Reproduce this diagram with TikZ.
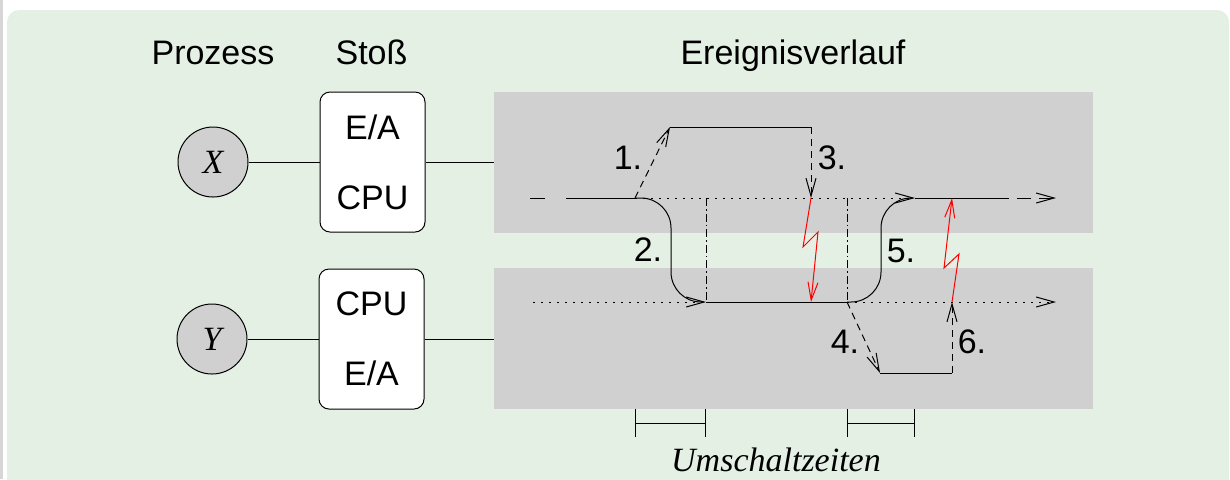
\documentclass[tikz,border=0pt]{standalone}
\usepackage{fontspec}
\setmainfont{Liberation Sans}
\newfontfamily\timesit{Liberation Serif}
\usetikzlibrary{arrows.meta,positioning}
\definecolor{bggreen}{RGB}{229,240,229}
\definecolor{bandgray}{RGB}{208,208,208}
\definecolor{edgegray}{RGB}{214,214,214}

\begin{document}
\begin{tikzpicture}[x=0.5pt,y=-0.5pt,line width=0.5pt,
    >={Straight Barb[length=9pt,width=5pt]},
    font=\fontsize{17}{20}\selectfont]
				\tikzset{proc/.style={circle,draw,fill=bandgray,minimum size=35pt,inner sep=0pt,font=\fontsize{17}{20}\selectfont\timesit\itshape},
					burst/.style={draw,fill=white,rounded corners=5pt,minimum width=52.5pt,minimum height=70pt,inner sep=0pt,align=center,font=\fontsize{17}{35}\selectfont},
					band/.style={fill=bandgray,minimum width=299.5pt,minimum height=70.5pt,inner sep=0pt},
					dotline/.style={dash pattern=on 0.8pt off 3.2pt},
					shortdash/.style={dash pattern=on 3.5pt off 2.5pt},
					longdash/.style={dash pattern=on 7pt off 4pt},
					switchline/.style={dash pattern=on 4pt off 1.5pt on 0.8pt off 1.5pt},
					span/.style={{Bar[width=14pt]}-{Bar[width=14pt]}}}
				% Hintergrund
				\useasboundingbox (0,0) rectangle (1230,479);
				\fill[white] (0,0) rectangle (1230,479);
				\fill[edgegray] (0,0) rectangle (3,479);
				\fill[bggreen,rounded corners=6pt] (7,10) rectangle (1229,520);
				% Prozesse und Stoesse
				\node [band] (bandX) at (793.5,162.5) {};
				\node [band] (bandY) at (793.5,338) {};
				\node [proc] (procX) at (213,162) {X};
				\node [proc] (procY) at (212,339) {Y};
				\node [burst, right=35.5pt of procX] (burstX) {E/A\\CPU};
				\node [burst, right=35.5pt of procY] (burstY) {CPU\\E/A};
				\node [anchor=base] (hproc) at (213,64) {Prozess};
				\node [anchor=base] (hburst) at (371.5,64) {Stoß};
				\node [anchor=base] (hevent) at (793,64) {Ereignisverlauf};
				\draw (procX) -- (burstX) (burstX.east) -- (burstX.east -| bandX.west);
				\draw (procY) -- (burstY) (burstY.east) -- (burstY.east -| bandY.west);
				% Ereignisverlauf
				\coordinate (xa) at (530,198);
				\coordinate (xb) at (566,198);
				\coordinate (xoff) at (635,198);
				\coordinate (xio) at (670,127);
				\coordinate (xioend) at (811,127);
				\coordinate (xint) at (811,198);
				\coordinate (xon) at (915,198);
				\coordinate (xc) at (995,198);
				\coordinate (xend) at (1056,198);
				\coordinate (ya) at (533,302);
				\coordinate (yon) at (706,302);
				\coordinate (yoff) at (847,302);
				\coordinate (yio) at (880,373);
				\coordinate (yioend) at (952,373);
				\coordinate (yint) at (952,302);
				\coordinate (yend) at (1056,302);
				\coordinate (tick) at (0,423);
				\draw[dash pattern=on 7.5pt off 10.5pt] (xa) -- (xb);
				\draw (xb) -- (xoff) (xon) -- (xc);
				\draw[->,longdash] (xc) -- (xend);
				\draw[dotline] (xoff) -- (xon) (ya) -- (yon);
				\draw (yon) -- (yoff);
				\draw[->,dotline] (yoff) -- (yend);
				\draw[switchline] (yon |- xoff) -- (yon) (yoff |- xoff) -- (yoff);
				\draw[->,rounded corners=15pt] (xoff) -| (671,302) -- (yon);
				\draw[->,rounded corners=15pt] (yoff) -| (881,198) -- (xon);
				\draw[->,shortdash] (xoff) -- (xio);
				\draw (xio) -- (xioend);
				\draw[->,shortdash] (xioend) -- (xint);
				\draw[->,shortdash] (yoff) -- (yio);
				\draw (yio) -- (yioend);
				\draw[->,shortdash] (yioend) -- (yint);
				\draw[->,red] (xint) -- ++(-8,49) -- ++(15,-15) -- (xint |- yon);
				\draw[->,red] (yint) -- ++(7,-48) -- ++(-15,14) -- (yint |- xon);
				\node (n1) at (628,158) {1.};
				\node (n2) at (648,250) {2.};
				\node (n3) at (832,158) {3.};
				\node (n4) at (845,342) {4.};
				\node (n5) at (901,251) {5.};
				\node (n6) at (972,342) {6.};
				% Umschaltzeiten
				\draw[span] (xoff |- tick) -- (yon |- tick);
				\draw[span] (yoff |- tick) -- (xon |- tick);
				\node [anchor=base, font=\fontsize{17}{20}\selectfont\timesit\itshape] (umsch) at (776,471) {Umschaltzeiten};
			\end{tikzpicture}
\end{document}
